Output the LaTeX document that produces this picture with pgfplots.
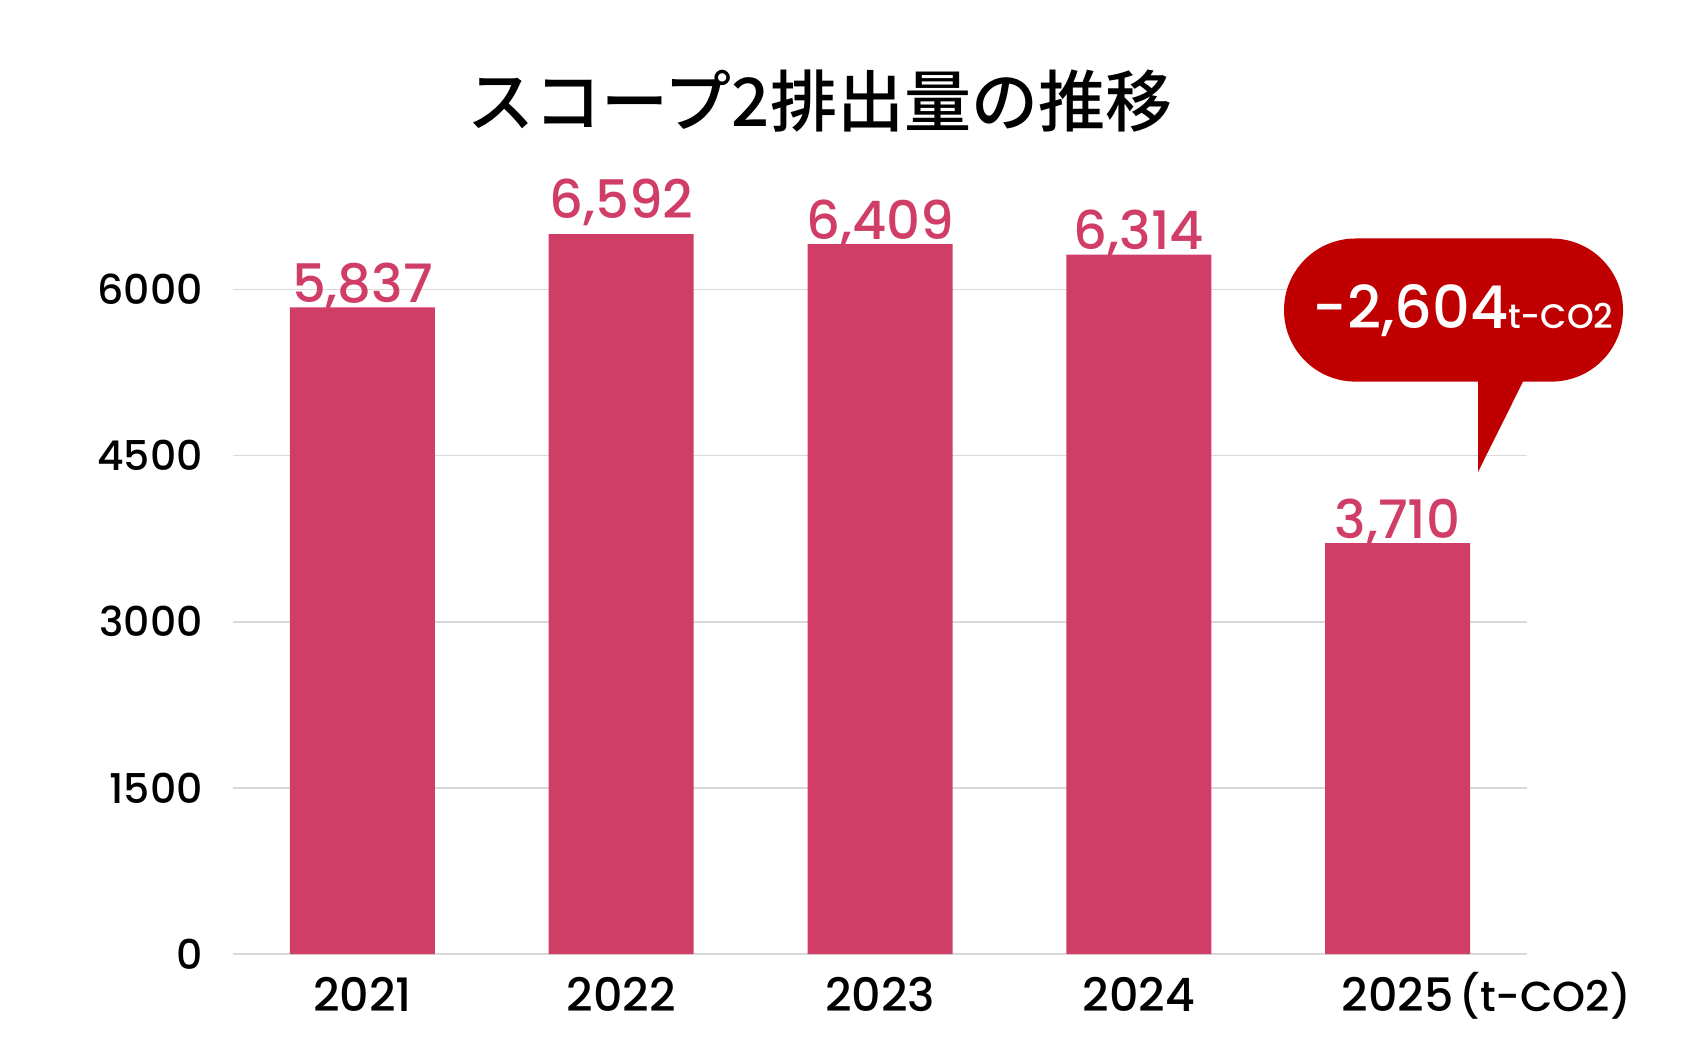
\documentclass[border=0pt]{standalone}
\usepackage{fontspec}
\usepackage{pgfplots}
\pgfplotsset{compat=1.18}
\setmainfont{Poppins}[UprightFont=* Medium]
\newfontfamily\jp{Noto Sans CJK JP Medium}
\definecolor{barc}{HTML}{D03E67}
\definecolor{callc}{HTML}{C00000}
\definecolor{gridc}{HTML}{D9D9D9}
\pgfplotsset{myax/.style={
  at={(116.5pt,48pt)}, anchor=south west,
  scale only axis, width=647pt, height=360pt,
  xmin=-0.5, xmax=4.5, ymin=0, ymax=6500,
}}
\begin{document}
\begin{tikzpicture}
\path[use as bounding box, fill=white] (0,0) rectangle (850pt,525pt);
\node[font=\jp\fontsize{33.5}{33.5}\selectfont, anchor=center] at (410pt,474.5pt) {スコープ2排出量の推移};
\begin{axis}[myax,
  ytick={0,1500,3000,4500,6000},
  xtick={0,1,2,3,4},
  xticklabels={2021,2022,2023,2024,{2025\rlap{\kern3pt\fontsize{21}{21}\selectfont(t-CO2)}}},
  ymajorgrids, major grid style={gridc, line width=0.8pt},
  axis line style={draw=none},
  major tick length=0pt,
  scaled y ticks=false,
  /pgf/number format/assume math mode=true,
  yticklabel style={font=\fontsize{20.5}{20.5}\selectfont, anchor=east, inner sep=0pt, xshift=-15pt, /pgf/number format/1000 sep={}},
  xticklabel style={font=\fontsize{23}{23}\selectfont, anchor=base, inner sep=0pt, yshift=-28.5pt},
]
\addplot[ybar, bar width=72.5pt, fill=barc, draw=none]
  coordinates {(0,5837) (1,6592) (2,6409) (3,6314) (4,3710)};
\end{axis}
\begin{axis}[myax, hide axis, clip=false]
\addplot[draw=none, mark=none,
  nodes near coords,
  nodes near coords style={font=\fontsize{26.5}{26.5}\selectfont, text=barc, anchor=base, inner sep=0pt, yshift=2.5pt, /pgf/number format/1000 sep={,}, /pgf/number format/assume math mode=true}]
  coordinates {(0,5837) (1,6592) (2,6409) (3,6314) (4,3710)};
\end{axis}
% callout
\fill[callc, rounded corners=35.75pt] (642pt,334.2pt) rectangle (811.5pt,405.75pt);
\fill[callc] (739pt,340pt) -- (739pt,289pt) -- (761.5pt,334.2pt) -- (761.5pt,340pt) -- cycle;
\node[text=white, inner sep=0pt, anchor=center] at (731.5pt,369.5pt) {{\fontsize{29.5}{29.5}\selectfont -2,604}{\fontsize{17}{17}\selectfont t-CO2}};
\end{tikzpicture}
\end{document}
